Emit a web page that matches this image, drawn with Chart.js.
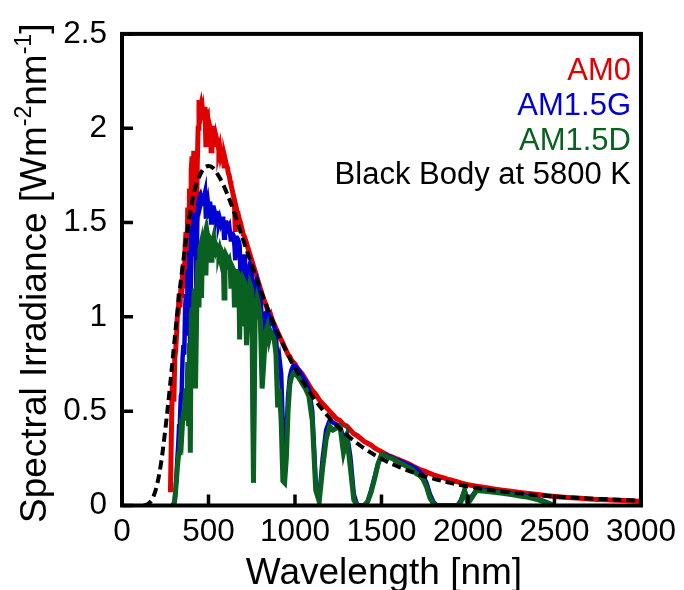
<!DOCTYPE html>
<html><head><meta charset="utf-8">
<script src="https://cdn.jsdelivr.net/npm/chart.js@4.4.1/dist/chart.umd.min.js"></script>
<style>html,body{margin:0;padding:0;background:#fff;overflow:hidden;}</style>
</head><body>
<canvas id="c" width="684" height="590" style="display:block;width:684px;height:590px"></canvas>
<script>
// Wavelength grid [nm]
const wavelength = [
 280,285,290,295,300,305,310,315,320,325,
 330,335,340,345,350,355,360,365,370,375,
 380,385,390,395,400,405,410,415,420,425,
 430,435,440,445,450,455,460,465,470,475,
 480,485,490,495,500,505,510,515,520,525,
 530,535,540,545,550,555,560,565,570,575,
 580,585,590,595,600,605,610,615,620,625,
 630,635,640,645,650,655,660,665,670,675,
 680,685,690,695,700,
 710,720,730,740,750,760,770,780,790,800,
 810,820,830,840,850,860,870,880,890,900,
 910,920,930,940,950,960,970,980,990,1000,
 1020,1040,1060,1080,1100,1120,1140,1160,1180,1200,
 1220,1240,1260,1280,1300,1320,1340,1360,1380,1400,
 1420,1440,1460,1480,1500,1520,1540,1560,1580,1600,
 1620,1640,1660,1680,1700,1720,1740,1760,1780,1800,
 1820,1840,1860,1880,1900,1920,1940,1960,1980,2000,
 2050,2100,2150,2200,2250,2300,2350,2400,2450,2500,
 2550,2600,2650,2700,2750,2800,2850,2900,2950,3000
];
// AM0 spectral irradiance [W m-2 nm-1]
const am0 = [
 0.07,0.35,0.62,0.65,0.55,0.78,0.82,0.90,1.00,1.02,
 1.12,1.05,1.15,1.10,1.22,1.28,1.15,1.38,1.45,1.25,
 1.58,1.15,1.68,0.85,1.78,1.85,1.60,1.88,1.85,1.75,
 1.35,1.80,2.00,2.15,2.10,2.12,2.08,2.10,2.05,2.10,
 2.10,1.90,2.05,2.06,1.98,2.02,2.00,1.88,1.95,2.00,
 2.00,1.97,1.90,1.95,1.93,1.92,1.88,1.90,1.86,1.88,
 1.87,1.86,1.80,1.84,1.82,1.80,1.79,1.76,1.75,1.72,
 1.70,1.68,1.66,1.64,1.60,1.45,1.58,1.56,1.55,1.53,
 1.51,1.50,1.48,1.46,1.44,
 1.42,1.39,1.36,1.33,1.30,1.27,1.24,1.21,1.18,1.15,
 1.12,1.09,1.07,1.04,0.99,1.01,0.98,0.96,0.94,0.92,
 0.90,0.88,0.86,0.84,0.82,0.80,0.79,0.77,0.76,0.75,
 0.72,0.70,0.67,0.64,0.61,0.59,0.56,0.54,0.52,0.50,
 0.48,0.46,0.45,0.43,0.42,0.40,0.38,0.37,0.355,0.34,
 0.33,0.32,0.305,0.295,0.285,0.275,0.265,0.258,0.25,0.243,
 0.235,0.228,0.22,0.21,0.20,0.192,0.185,0.178,0.17,0.163,
 0.157,0.151,0.146,0.14,0.135,0.13,0.125,0.12,0.115,0.11,
 0.102,0.095,0.088,0.081,0.075,0.069,0.064,0.058,0.053,0.048,
 0.044,0.041,0.038,0.035,0.032,0.030,0.028,0.026,0.024,0.022
];
// AM1.5G
const am15g = [
 null,null,null,0.00,0.00,0.03,0.08,0.16,0.25,0.32,
 0.42,0.45,0.58,0.60,0.78,0.85,0.80,1.05,1.12,0.98,
 1.25,0.90,1.35,0.75,1.42,1.48,1.32,1.52,1.55,1.45,
 1.15,1.50,1.60,1.63,1.64,1.60,1.62,1.60,1.60,1.64,
 1.66,1.52,1.60,1.62,1.58,1.60,1.60,1.50,1.55,1.58,
 1.58,1.56,1.52,1.55,1.55,1.54,1.50,1.52,1.50,1.52,
 1.52,1.52,1.42,1.48,1.50,1.50,1.49,1.47,1.48,1.44,
 1.40,1.44,1.44,1.43,1.38,1.30,1.42,1.42,1.41,1.40,
 1.38,1.22,1.15,1.30,1.32,
 1.32,1.12,1.24,1.28,1.26,0.20,1.18,1.20,1.16,1.10,
 0.98,0.90,1.02,1.03,0.95,0.99,0.97,0.95,0.90,0.74,
 0.78,0.70,0.42,0.25,0.36,0.58,0.68,0.72,0.74,0.74,
 0.72,0.69,0.66,0.62,0.50,0.12,0.04,0.25,0.40,0.45,
 0.44,0.43,0.42,0.36,0.38,0.26,0.06,0.00,0.00,0.00,
 0.02,0.08,0.15,0.22,0.265,0.27,0.262,0.255,0.245,0.238,
 0.23,0.222,0.214,0.205,0.195,0.18,0.16,0.12,0.06,0.02,
 0.00,0.00,0.00,0.00,0.00,0.00,0.00,0.03,0.08,0.02,
 0.085,0.082,0.077,0.072,0.064,0.057,0.048,0.036,0.020,0.00,
 null,null,null,null,null,null,null,null,null,null
];
// AM1.5D
const am15d = [
 null,null,null,null,0.00,0.03,0.08,0.14,0.20,0.25,
 0.28,0.30,0.38,0.36,0.44,0.50,0.45,0.57,0.62,0.52,
 0.76,0.42,0.86,0.28,0.98,1.05,0.82,1.10,1.15,0.62,
 0.92,1.22,1.30,1.05,1.36,1.38,1.10,1.40,1.41,1.42,
 1.44,1.22,1.40,1.43,1.40,1.42,1.41,1.30,1.36,1.40,
 1.42,1.38,1.36,1.38,1.37,1.36,1.34,1.36,1.34,1.35,
 1.34,1.34,1.10,1.30,1.33,1.32,1.31,1.29,1.30,1.27,
 1.15,1.27,1.26,1.25,1.05,1.20,1.24,1.24,1.23,1.22,
 0.88,1.10,0.95,1.15,1.20,
 1.18,0.85,1.08,1.17,1.14,0.12,1.05,1.10,1.06,0.98,
 0.62,0.76,0.92,0.95,0.88,0.92,0.90,0.88,0.80,0.52,
 0.62,0.45,0.13,0.12,0.25,0.50,0.64,0.68,0.70,0.70,
 0.68,0.65,0.62,0.58,0.45,0.08,0.02,0.20,0.35,0.42,
 0.40,0.41,0.42,0.28,0.36,0.20,0.03,0.00,0.00,0.00,
 0.02,0.07,0.14,0.22,0.27,0.265,0.255,0.25,0.24,0.23,
 0.22,0.21,0.20,0.19,0.17,0.16,0.14,0.10,0.04,0.01,
 0.00,0.00,0.00,0.00,0.00,0.00,0.00,0.02,0.08,0.01,
 0.08,0.075,0.07,0.065,0.058,0.05,0.043,0.032,0.015,0.00,
 null,null,null,null,null,null,null,null,null,null
];
// Black body at 5800 K (as drawn)
const bbWavelength = [125,150,175,200,225,250,275,300,325,350,375,400,425,450,475,500,525,550,575,600,650,700,750,800,850,900,950,1000,1100,1200,1300,1400,1500,1600,1750,2000,2250,2500,2750,3000];
const bbValue = [0.0,0.007,0.034,0.10,0.22,0.40,0.61,0.84,1.07,1.265,1.44,1.58,1.69,1.75,1.79,1.80,1.79,1.76,1.72,1.67,1.55,1.41,1.276,1.146,1.025,0.915,0.817,0.728,0.58,0.464,0.374,0.303,0.248,0.205,0.155,0.101,0.069,0.048,0.035,0.0255];

const xTicks = [0,500,1000,1500,2000,2500,3000];
const yTicks = [0,0.5,1,1.5,2,2.5];
const legendLabels = ['AM0','AM1.5G','AM1.5D','Black Body at 5800 K'];
const colRed = '#e00000', colBlue = '#0000d2', colGreen = '#0a6020', colBlack = '#000000';
const legendColors = [colRed, colBlue, colGreen, colBlack];

const FONT = "'Liberation Sans', Arial, Helvetica, sans-serif";
Chart.defaults.font.family = FONT;

function pts(xs, ys){ return xs.map((w,i)=>({x:w, y:ys[i]})); }

const framePlugin = {
  id:'frame',
  afterDatasetsDraw(chart){
    const {ctx, chartArea:a, scales} = chart;
    const x = scales.x, y = scales.y;
    ctx.save();
    ctx.strokeStyle = '#000';
    ctx.lineWidth = 4;
    ctx.strokeRect(a.left, a.top, a.right - a.left, a.bottom - a.top);
    ctx.lineWidth = 3.5;
    ctx.beginPath();
    xTicks.forEach(v=>{ const px = x.getPixelForValue(v); ctx.moveTo(px, a.bottom); ctx.lineTo(px, a.bottom - 11); });
    yTicks.forEach(v=>{ const py = y.getPixelForValue(v); ctx.moveTo(a.left, py); ctx.lineTo(a.left + 11, py); });
    ctx.stroke();
    ctx.restore();
  }
};

const textPlugin = {
  id:'texts',
  afterDraw(chart){
    const ctx = chart.ctx;
    ctx.save();
    // legend
    ctx.textAlign = 'right';
    ctx.textBaseline = 'alphabetic';
    ctx.font = '31px ' + FONT;
    const base = [80, 115, 150, 184];
    legendLabels.forEach((t,i)=>{ ctx.fillStyle = legendColors[i]; ctx.fillText(t, 631, base[i]); });
    // x title
    ctx.fillStyle = '#000';
    ctx.textAlign = 'center';
    ctx.font = '37px ' + FONT;
    ctx.fillText('Wavelength [nm]', 384, 584);
    // y title with superscripts
    ctx.translate(46, 523);
    ctx.rotate(-Math.PI/2);
    ctx.textAlign = 'left';
    const parts = [
      {t:'Spectral Irradiance [Wm', f:'37px ', up:0},
      {t:'-2', f:'23px ', up:15},
      {t:'nm', f:'37px ', up:0},
      {t:'-1', f:'23px ', up:15},
      {t:']', f:'37px ', up:0}
    ];
    let cx = 0;
    parts.forEach(p=>{ ctx.font = p.f + FONT; ctx.fillText(p.t, cx, -p.up); cx += ctx.measureText(p.t).width; });
    ctx.restore();
  }
};

new Chart(document.getElementById('c'), {
  type:'line',
  data:{
    datasets:[
      {label:'Black Body at 5800 K', data:pts(bbWavelength,bbValue), borderColor:colBlack, borderWidth:4, borderDash:[9,5], tension:0.35, order:0},
      {label:'AM1.5D', data:pts(wavelength,am15d), borderColor:colGreen, borderWidth:5, tension:0, order:1},
      {label:'AM1.5G', data:pts(wavelength,am15g), borderColor:colBlue, borderWidth:4.5, tension:0, order:2},
      {label:'AM0', data:pts(wavelength,am0), borderColor:colRed, borderWidth:5, tension:0, order:3}
    ]
  },
  options:{
    responsive:false,
    animation:false,
    devicePixelRatio:1,
    spanGaps:false,
    elements:{point:{radius:0, hoverRadius:0}, line:{fill:false, borderCapStyle:'butt', borderJoinStyle:'miter'}},
    layout:{padding:{top:30, right:37, left:0, bottom:0}, autoPadding:false},
    plugins:{legend:{display:false}, title:{display:false}, tooltip:{enabled:false}},
    scales:{
      x:{type:'linear', min:0, max:3000,
         afterBuildTicks(s){ s.ticks = xTicks.map(v=>({value:v})); },
         ticks:{callback:v=>String(v), font:{size:31.5}, color:'#000', padding:8, maxRotation:0, autoSkip:false},
         grid:{display:false, drawTicks:false}, border:{display:false},
         afterFit(s){ s.height = 84.5; }},
      y:{type:'linear', min:0, max:2.5,
         afterBuildTicks(s){ s.ticks = yTicks.map(v=>({value:v})); },
         ticks:{callback:v=>String(v), font:{size:31.5}, color:'#000', padding:15, autoSkip:false},
         grid:{display:false, drawTicks:false}, border:{display:false},
         afterFit(s){ s.width = 122; }}
    }
  },
  plugins:[framePlugin, textPlugin]
});
</script>
</body></html>
